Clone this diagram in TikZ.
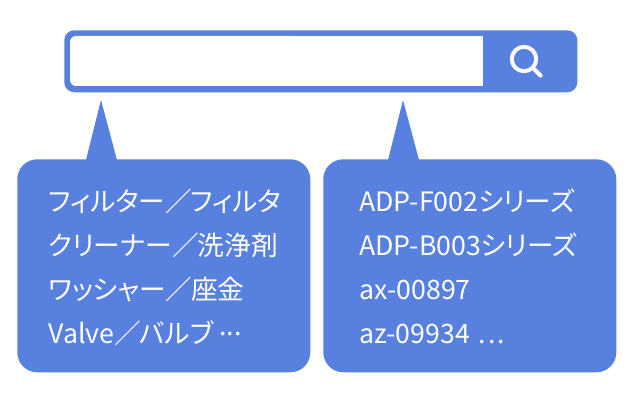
\documentclass[tikz,border=0pt]{standalone}
\usepackage{fontspec}
\setmainfont[RawFeature={+palt}]{Noto Sans CJK JP}
\definecolor{barblue}{HTML}{5780DF}
\tikzset{
  bubble/.style={fill=barblue, rounded corners=20*0.7112pt, minimum width=293*0.7112pt, minimum height=213*0.7112pt, inner sep=0pt, anchor=north west},
  rowtext/.style={white, anchor=base west, inner sep=0pt, font=\fontsize{19pt}{21pt}\selectfont},
}

\begin{document}
\begin{tikzpicture}[x=0.025cm, y=-0.025cm]
\useasboundingbox (0, 0) rectangle (640, 400);

%draw search bar
\node [fill=barblue, rounded corners=10*0.7112pt, minimum width=513*0.7112pt, minimum height=62*0.7112pt, inner sep=0pt, anchor=north west] (bar) at (64, 30) {};
\fill[white, rounded corners=6*0.7112pt] (70, 36) rectangle (300, 86);
\fill[white] (200, 36) rectangle (483, 86);

%draw magnifier
\node [circle, draw=white, line width=2.8pt, minimum size=17.4pt, inner sep=0pt] (lens) at (524, 59) {};
\coordinate (handle) at (541, 76);
\draw[white, line width=2.8pt, line cap=round] (lens.-45) -- (handle);

%draw bubbles
\node [bubble] (filters) at (17, 159) {};
\node [bubble] (models) at (323, 159) {};

%draw pointers
\coordinate (filtertip) at (101, 100);
\coordinate (modeltip) at (403, 100);
\fill[barblue] (filtertip) -- (117, 160) -- (86, 160) -- cycle;
\fill[barblue] (modeltip) -- (419, 160) -- (388, 160) -- cycle;

%left list
\node [rowtext] (filter1) at (48, 212) {フィルター／\kern-1ptフィルタ};
\node [rowtext] (filter2) at (48, 256) {クリーナー／\kern-1pt洗浄剤};
\node [rowtext] (filter3) at (48, 300) {ワッシャー／\kern-1pt座金};
\node [rowtext] (filter4) at (48, 344) {Valve／\kern-1ptバルブ \raisebox{0.32em}{...}};

%right list
\node [rowtext] (model1) at (359, 212) {ADP-F002シリーズ};
\node [rowtext] (model2) at (359, 256) {ADP-B003シリーズ};
\node [rowtext] (model3) at (359, 300) {ax-00897};
\node [rowtext] (model4) at (359, 344) {az-09934 \kern2pt.\kern1.5pt.\kern1.5pt.};

\end{tikzpicture}
\end{document}
